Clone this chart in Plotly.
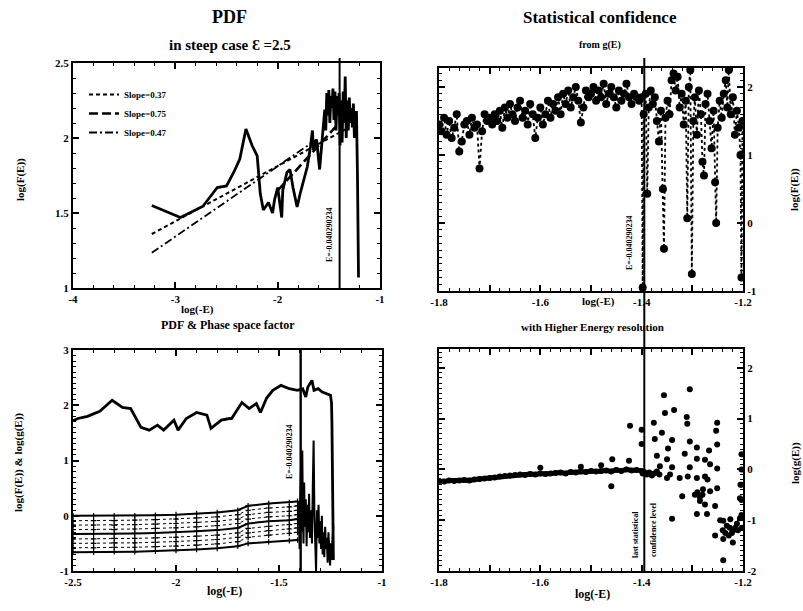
import numpy as np
import plotly.graph_objects as go

# ---------------- data ----------------
E_CUT = -0.040290234
X_CUT = float(np.log10(-E_CUT))

# Top-left: PDF in steep case
tl_x = [-3.23, -2.95, -2.73, -2.59, -2.50, -2.43, -2.37, -2.31, -2.25, -2.20, -2.17, -2.14, -2.09, -2.05,
        -2.03, -2.00, -1.96, -1.95, -1.91, -1.88, -1.85, -1.81, -1.78, -1.75, -1.71, -1.68, -1.66, -1.65,
        -1.62, -1.59, -1.57, -1.555, -1.54, -1.53, -1.52, -1.51, -1.50, -1.49, -1.48, -1.47, -1.46, -1.45,
        -1.44, -1.43, -1.42, -1.41, -1.40, -1.39, -1.38, -1.37, -1.36, -1.35, -1.34, -1.33, -1.32, -1.31,
        -1.30, -1.29, -1.28, -1.27, -1.26, -1.25, -1.24, -1.23, -1.22, -1.21]
tl_y = [1.55, 1.47, 1.545, 1.67, 1.68, 1.77, 1.86, 2.06, 1.95, 1.88, 1.63, 1.52, 1.57, 1.50,
        1.59, 1.67, 1.47, 1.65, 1.77, 1.79, 1.67, 1.54, 1.63, 1.70, 1.81, 1.94, 2.05, 1.92,
        1.99, 1.79, 1.97, 2.05, 2.19, 2.05, 2.30, 2.15, 2.32, 2.10, 2.28, 2.20, 2.33, 2.12,
        2.31, 2.05, 2.28, 2.15, 2.30, 1.95, 2.25, 1.97, 2.31, 2.10, 2.41, 2.00, 2.25, 2.05,
        2.27, 2.10, 2.20, 2.07, 2.23, 2.00, 2.12, 2.18, 1.74, 1.07]

fit_names = ["Slope=0.37", "Slope=0.75", "Slope=0.47"]
fit037_x = [-3.23, -1.33]
fit037_y = [1.36, 2.06]
fit075_x = [-2.00, -1.40]
fit075_y = [1.65, 2.10]
fit047_x = [-3.23, -1.62]
fit047_y = [1.235, 1.99]

# Top-right: statistical confidence from g(E)
tr_x = [-1.800, -1.795, -1.790, -1.785, -1.780, -1.775, -1.770, -1.765, -1.760, -1.755,
        -1.750, -1.745, -1.740, -1.735, -1.730, -1.725, -1.720, -1.715, -1.710, -1.705,
        -1.700, -1.695, -1.690, -1.685, -1.680, -1.675, -1.670, -1.665, -1.660, -1.655,
        -1.650, -1.645, -1.640, -1.635, -1.630, -1.625, -1.620, -1.615, -1.610, -1.605,
        -1.600, -1.595, -1.590, -1.585, -1.580, -1.575, -1.570, -1.565, -1.560, -1.555,
        -1.550, -1.545, -1.540, -1.535, -1.530, -1.525, -1.520, -1.515, -1.510, -1.505,
        -1.500, -1.495, -1.490, -1.485, -1.480, -1.475, -1.470, -1.465, -1.460, -1.455,
        -1.450, -1.445, -1.440, -1.435, -1.430, -1.425, -1.420, -1.415, -1.410, -1.405,
        -1.400, -1.398, -1.396, -1.392, -1.389, -1.386, -1.382, -1.378, -1.374, -1.370,
        -1.366, -1.362, -1.358, -1.356, -1.353, -1.349, -1.345, -1.341, -1.337, -1.333,
        -1.329, -1.325, -1.321, -1.317, -1.313, -1.310, -1.307, -1.304, -1.301, -1.298,
        -1.295, -1.291, -1.287, -1.283, -1.280, -1.277, -1.274, -1.270, -1.266, -1.262,
        -1.258, -1.255, -1.253, -1.250, -1.246, -1.242, -1.238, -1.234, -1.231, -1.228,
        -1.224, -1.220, -1.216, -1.212, -1.208, -1.205, -1.203, -1.201]
tr_y = [1.45, 1.35, 1.55, 1.30, 1.50, 1.25, 1.40, 1.60, 1.05, 1.20,
        1.45, 1.50, 1.30, 1.55, 1.40, 1.45, 0.80, 1.35, 1.60, 1.50,
        1.55, 1.45, 1.60, 1.50, 1.65, 1.40, 1.70, 1.55, 1.75, 1.60,
        1.50, 1.70, 1.80, 1.55, 1.65, 1.45, 1.75, 1.60, 1.25, 1.55,
        1.70, 1.45, 1.60, 1.80, 1.55, 1.75, 1.65, 1.85, 1.60, 1.90,
        1.75, 1.95, 1.70, 1.85, 2.00, 1.80, 1.48, 1.70, 1.95, 1.85,
        1.90, 2.00, 1.80, 1.95, 1.85, 2.05, 1.75, 1.90, 2.00, 1.85,
        1.70, 1.95, 1.80, 1.90, 2.05, 1.85, 1.75, 1.90, 1.85, 1.80,
        1.85, -0.95, 1.60, 1.90, 0.43, 1.70, 1.95, 1.75, 1.85, 1.50,
        1.20, 1.65, 0.50, -0.38, 1.55, 1.80, 1.60, 2.10, 2.20, 1.95,
        2.15, 1.70, 1.90, 1.45, 1.80, 0.07, 2.00, 2.25, -0.75, 1.50,
        1.85, 1.30, 1.95, 1.60, 0.90, 0.70, 1.75, 1.90, 1.50, 1.10,
        1.65, 0.60, 0.00, 1.40, 1.80, 1.55, 1.90, 2.10, 1.70, 2.25,
        1.60, 1.85, 1.30, 1.65, 1.40, 1.00, -0.80, 1.50]

# Bottom-left: PDF & phase space factor
bl_f_x = [-2.50, -2.476, -2.43, -2.37, -2.31, -2.26, -2.22, -2.17, -2.13, -2.09, -2.06, -2.01, -1.99,
          -1.95, -1.90, -1.85, -1.83, -1.78, -1.74, -1.73, -1.68, -1.645, -1.61, -1.59, -1.56, -1.53,
          -1.49, -1.45, -1.41, -1.385, -1.37, -1.36, -1.34, -1.33, -1.31, -1.29, -1.25, -1.245, -1.243,
          -1.242, -1.24, -1.238, -1.236]
bl_f_y = [1.72, 1.76, 1.80, 1.89, 2.09, 1.96, 1.94, 1.60, 1.55, 1.64, 1.55, 1.73, 1.55,
          1.76, 1.87, 1.82, 1.58, 1.73, 1.76, 1.76, 2.05, 1.94, 2.03, 1.87, 2.13, 2.27,
          2.36, 2.30, 2.27, 2.30, 2.15, 2.33, 2.45, 2.27, 2.30, 2.24, 2.18, 2.04, 1.67,
          1.05, -0.15, -0.69, -0.80]

bl_g_x = [-2.50, -2.40, -2.30, -2.20, -2.10, -2.00, -1.90, -1.80, -1.70, -1.65, -1.55, -1.45, -1.41]
bl_g = [
    [0.00, 0.00, 0.00, 0.00, 0.01, 0.02, 0.04, 0.06, 0.10, 0.18, 0.22, 0.24, 0.26],
    [-0.09, -0.09, -0.09, -0.08, -0.07, -0.06, -0.04, -0.02, 0.02, 0.10, 0.14, 0.16, 0.18],
    [-0.17, -0.17, -0.17, -0.16, -0.15, -0.14, -0.12, -0.10, -0.06, 0.02, 0.06, 0.08, 0.10],
    [-0.25, -0.25, -0.25, -0.24, -0.23, -0.22, -0.20, -0.18, -0.14, -0.06, -0.02, 0.00, 0.02],
    [-0.33, -0.33, -0.33, -0.32, -0.31, -0.30, -0.28, -0.26, -0.22, -0.14, -0.10, -0.08, -0.06],
    [-0.42, -0.42, -0.41, -0.41, -0.40, -0.39, -0.37, -0.35, -0.31, -0.23, -0.19, -0.16, -0.14],
    [-0.50, -0.50, -0.49, -0.49, -0.48, -0.47, -0.45, -0.43, -0.39, -0.31, -0.27, -0.24, -0.22],
    [-0.58, -0.58, -0.57, -0.57, -0.56, -0.55, -0.53, -0.51, -0.47, -0.39, -0.35, -0.32, -0.30],
    [-0.66, -0.66, -0.65, -0.65, -0.64, -0.63, -0.61, -0.59, -0.55, -0.50, -0.47, -0.45, -0.44],
]
bl_chaos_x = [-1.405, -1.400, -1.397, -1.393, -1.390, -1.387, -1.384, -1.381, -1.378, -1.374, -1.370,
              -1.366, -1.362, -1.358, -1.354, -1.350, -1.345, -1.340, -1.336, -1.332, -1.328, -1.324,
              -1.320, -1.316, -1.312, -1.308, -1.304, -1.300, -1.296, -1.292, -1.288, -1.284, -1.280,
              -1.276, -1.272, -1.268, -1.264, -1.260, -1.256, -1.252, -1.248, -1.244, -1.240, -1.236]
bl_chaos_y = [0.25, -0.60, 0.30, 0.90, -0.30, 1.18, 0.10, -0.50, 0.60, -0.20, 0.30,
              -0.55, 0.20, -0.30, 0.40, -0.40, 0.10, -0.50, 0.50, 1.36, 0.00, -0.60,
              -1.00, 0.10, -0.40, 0.20, -0.50, -0.10, -0.60, 0.00, -0.70, -0.30, -0.75,
              -0.20, -0.60, -0.40, -0.85, -0.30, -0.70, -0.90, -0.50, -0.80, -0.40, -0.20]

# Bottom-right: higher energy resolution
br_line_x = [-1.80, -1.79, -1.78, -1.77, -1.76, -1.75, -1.74, -1.73, -1.72, -1.71, -1.70, -1.69, -1.68, -1.67,
             -1.66, -1.65, -1.64, -1.63, -1.62, -1.61, -1.60, -1.59, -1.58, -1.57, -1.56, -1.55, -1.54, -1.53,
             -1.52, -1.51, -1.50, -1.49, -1.48, -1.47, -1.46, -1.45, -1.44, -1.43, -1.42, -1.41, -1.40]
br_line_y = [-0.23, -0.24, -0.22, -0.23, -0.22, -0.21, -0.22, -0.20, -0.19, -0.18, -0.17, -0.16, -0.14, -0.13,
             -0.12, -0.11, -0.10, -0.11, -0.09, -0.10, -0.08, -0.09, -0.08, -0.07, -0.06, -0.08, -0.05, -0.06,
             -0.04, -0.05, -0.03, -0.04, -0.03, -0.02, -0.04, -0.01, -0.03, 0.00, -0.02, -0.01, -0.03]
br_pts_x = [-1.60, -1.52, -1.48, -1.458, -1.46, -1.425, -1.423, -1.400, -1.400,
            -1.398, -1.395, -1.390, -1.385, -1.380, -1.375, -1.370, -1.365,
            -1.305, -1.356, -1.336, -1.354, -1.311, -1.251, -1.376, -1.310, -1.360, -1.253,
            -1.374, -1.340, -1.305, -1.315, -1.291, -1.251, -1.267, -1.348, -1.370, -1.350,
            -1.291, -1.275, -1.251, -1.364, -1.340, -1.305, -1.265, -1.380, -1.344, -1.325,
            -1.309, -1.291, -1.275, -1.270, -1.350, -1.279, -1.265, -1.251, -1.320, -1.285,
            -1.275, -1.255, -1.291, -1.271, -1.340, -1.239, -1.226, -1.232, -1.212, -1.220,
            -1.206, -1.255, -1.239, -1.220, -1.239, -1.206, -1.205, -1.295, -1.290, -1.285,
            -1.280, -1.245, -1.240, -1.235, -1.228, -1.222, -1.215, -1.210, -1.225,
            -1.203, -1.203, -1.203, -1.203, -1.203, -1.202]
br_pts_y = [0.03, 0.05, 0.08, 0.20, -0.33, 0.17, 0.86, 0.50, 0.78,
            -0.08, -0.05, -0.10, -0.06, -0.12, -0.08, -0.04, -0.10,
            1.58, 1.46, 1.17, 1.11, 1.03, 0.92, 0.92, 0.90, 0.72, 0.76,
            0.60, 0.58, 0.55, 0.31, 0.43, 0.49, 0.37, 0.41, 0.27, 0.20,
            0.21, 0.19, 0.02, 0.06, 0.04, 0.04, 0.10, -0.10, -0.10, -0.17,
            -0.14, -0.17, -0.14, -0.20, -0.17, -0.39, -0.43, -0.37, -0.53, -0.62,
            -0.69, -0.72, -0.88, -0.88, -0.97, -1.01, -1.15, -1.11, -1.07, -1.21,
            -0.96, -1.30, -1.37, -1.44, -1.79, -0.57, -0.30, -0.50, -0.45, -0.55,
            -0.50, -1.00, -1.20, -1.25, -1.30, -1.25, -1.15, -1.20, -0.98,
            0.30, 0.00, -0.30, -0.60, -0.90, -1.15]

# tick labels
tl_xt = [-4, -3, -2, -1]
tl_xt_txt = ["-4", "-3", "-2", "-1"]
tl_yt = [1, 1.5, 2, 2.5]
tl_yt_txt = ["1", "1.5", "2", "2.5"]
r_xt = [-1.8, -1.7, -1.6, -1.5, -1.4, -1.3, -1.2]
r_xt_txt = ["-1.8", "", "-1.6", "", "-1.4", "", "-1.2"]
tr_yt = [-1, 0, 1, 2]
tr_yt_txt = ["-1", "0", "1", "2"]
bl_xt = [-2.5, -2, -1.5, -1]
bl_xt_txt = ["-2.5", "-2", "-1.5", "-1"]
bl_yt = [-1, 0, 1, 2, 3]
bl_yt_txt = ["-1", "0", "1", "2", "3"]
br_yt = [-2, -1, 0, 1, 2]
br_yt_txt = ["-2", "-1", "0", "1", "2"]

# ---------------- figure ----------------
W, H = 803, 611
FONT = "Liberation Serif"
BLK = "black"

def px(xp):
    return xp / W

def py(yp):
    return 1 - yp / H

fig = go.Figure()

# top-left
fig.add_trace(go.Scatter(x=tl_x, y=tl_y, mode="lines", line=dict(color=BLK, width=2.8),
                         xaxis="x", yaxis="y", showlegend=False))
fig.add_trace(go.Scatter(x=fit037_x, y=fit037_y, mode="lines", name=fit_names[0],
                         line=dict(color=BLK, width=2, dash="4px,3px"), xaxis="x", yaxis="y"))
fig.add_trace(go.Scatter(x=fit075_x, y=fit075_y, mode="lines", name=fit_names[1],
                         line=dict(color=BLK, width=2.6, dash="9px,4px"), xaxis="x", yaxis="y"))
fig.add_trace(go.Scatter(x=fit047_x, y=fit047_y, mode="lines", name=fit_names[2],
                         line=dict(color=BLK, width=1.8, dash="8px,3px,2px,3px"), xaxis="x", yaxis="y"))

# top-right
fig.add_trace(go.Scatter(x=tr_x, y=tr_y, mode="lines+markers",
                         line=dict(color=BLK, width=1.8, dash="dot"),
                         marker=dict(color=BLK, size=8), xaxis="x2", yaxis="y2", showlegend=False))

# bottom-left
for i, g in enumerate(bl_g):
    solid = i in (0, 4, 8)
    fig.add_trace(go.Scatter(x=bl_g_x, y=g, mode="lines+markers",
                             line=dict(color=BLK, width=2 if solid else 1, dash="solid" if solid else "dot"),
                             marker=dict(color=BLK, size=4, symbol="cross-thin",
                                         line=dict(color=BLK, width=1.2)),
                             xaxis="x3", yaxis="y3", showlegend=False))
fig.add_trace(go.Scatter(x=bl_chaos_x, y=bl_chaos_y, mode="lines", line=dict(color=BLK, width=2),
                         xaxis="x3", yaxis="y3", showlegend=False))
fig.add_trace(go.Scatter(x=bl_f_x, y=bl_f_y, mode="lines", line=dict(color=BLK, width=2.8),
                         xaxis="x3", yaxis="y3", showlegend=False))

# bottom-right
fig.add_trace(go.Scatter(x=br_line_x, y=br_line_y, mode="lines+markers", line=dict(color=BLK, width=5),
                         marker=dict(color=BLK, size=6), xaxis="x4", yaxis="y4", showlegend=False))
fig.add_trace(go.Scatter(x=br_pts_x, y=br_pts_y, mode="markers",
                         marker=dict(color=BLK, size=6), xaxis="x4", yaxis="y4", showlegend=False))

tickfont = dict(family=FONT, size=11, color=BLK, weight="bold")

def axis(domain, rng, tv, tt, minor_dtick, **kw):
    d = dict(domain=domain, range=rng, tickmode="array", tickvals=tv, ticktext=tt,
             showline=True, linecolor=BLK, linewidth=2, mirror="allticks",
             ticks="inside", ticklen=6, tickwidth=1.5, tickcolor=BLK,
             minor=dict(ticks="inside", ticklen=3, tickwidth=1.2, tickcolor=BLK, dtick=minor_dtick,
                        showgrid=False),
             showgrid=False, zeroline=False, tickfont=tickfont, automargin=False, fixedrange=True)
    d.update(kw)
    return d

TLX = [px(73), px(380)]
TLY = [py(288), py(63)]
TRX = [px(439), px(743)]
TRY = [py(291), py(68)]
BLX = [px(73), px(382)]
BLY = [py(571), py(350)]
BRX = [px(439), px(743)]
BRY = [py(571), py(349)]

fig.update_layout(
    width=W, height=H, margin=dict(l=0, r=0, t=0, b=0),
    paper_bgcolor="white", plot_bgcolor="white",
    font=dict(family=FONT, color=BLK),
    xaxis=axis(TLX, [-4, -1], tl_xt, tl_xt_txt, 0.2, anchor="y"),
    yaxis=axis(TLY, [1, 2.5], tl_yt, tl_yt_txt, 0.1, anchor="x"),
    xaxis2=axis(TRX, [-1.8, -1.2], r_xt, r_xt_txt, 0.02, anchor="y2"),
    yaxis2=axis(TRY, [-1, 2.28], tr_yt, tr_yt_txt, 0.1, anchor="x2", side="right"),
    xaxis3=axis(BLX, [-2.5, -1], bl_xt, bl_xt_txt, 0.1, anchor="y3"),
    yaxis3=axis(BLY, [-1, 3], bl_yt, bl_yt_txt, 0.1, anchor="x3"),
    xaxis4=axis(BRX, [-1.8, -1.2], r_xt, r_xt_txt, 0.02, anchor="y4"),
    yaxis4=axis(BRY, [-2, 2.37], br_yt, br_yt_txt, 0.1, anchor="x4", side="right"),
    legend=dict(x=px(84), y=py(80), xanchor="left", yanchor="top", bgcolor="rgba(0,0,0,0)",
                font=dict(family=FONT, size=9, color=BLK, weight="bold"), tracegroupgap=0,
                itemwidth=30),
    showlegend=True,
)

# cut lines
fig.add_shape(type="line", xref="x", yref="paper", x0=X_CUT, x1=X_CUT, y0=py(290), y1=py(58),
              line=dict(color=BLK, width=2))
fig.add_shape(type="line", xref="x2", yref="paper", x0=X_CUT, x1=X_CUT, y0=py(572), y1=py(58),
              line=dict(color=BLK, width=2))
fig.add_shape(type="line", xref="x3", yref="paper", x0=X_CUT, x1=X_CUT, y0=py(572), y1=py(348),
              line=dict(color=BLK, width=2.4))

def ann(text, x, y, size, angle=0, bold=True):
    fig.add_annotation(text=text, x=px(x), y=py(y), xref="paper", yref="paper", showarrow=False,
                       textangle=angle, xanchor="center", yanchor="middle",
                       font=dict(family=FONT, size=size, color=BLK, weight="bold" if bold else "normal"))

ann("PDF", 230, 17, 18)
ann("in steep case \u0190 =2.5", 230, 45, 15)
ann("Statistical confidence", 600, 17, 17)
ann("from g(E)", 600, 45, 10)
ann("PDF &amp; Phase space factor", 228, 325, 12)
ann("with Higher Energy resolution", 592, 327, 11)

ann("log(F(E))", 20, 180, 11, -90)
ann("log(F(E)) &amp; log(g(E))", 18, 463, 11, -90)
ann("log(F(E))", 795, 190, 11, -90)
ann("log(g(E))", 795, 463, 11, -90)

ann("log(-E)", 197, 309, 11)
ann("log(-E)", 598, 302, 11)
ann("log(-E)", 224, 591, 12)
ann("log(-E)", 592, 594, 12)

cut_label = "E=-0.040290234"
ann(cut_label, 330, 235, 8, -90)
ann(cut_label, 630, 243, 8, -90)
ann(cut_label, 290, 452, 8, -90)
ann("last statistical", 635, 535, 8, -90)
ann("confidence level", 653, 530, 8, -90)

fig.write_html(
    "out.html",
    config={"displayModeBar": False},
    post_script="document.documentElement.style.margin='0';document.body.style.margin='0';"
                "document.body.style.overflow='hidden';",
)
